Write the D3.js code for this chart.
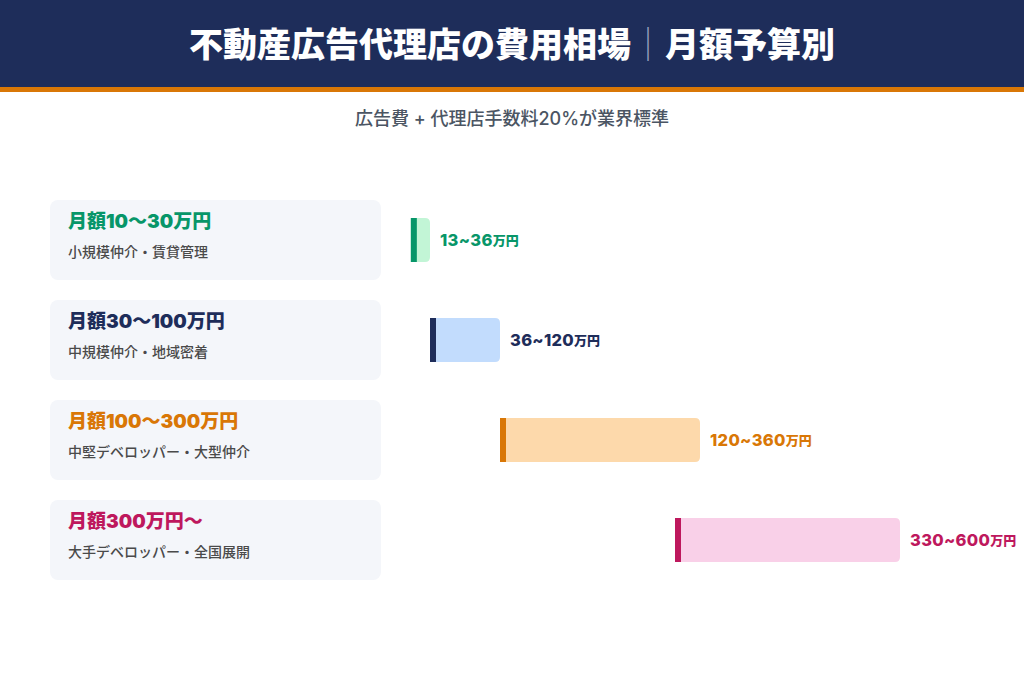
<!DOCTYPE html>
<html>
<head>
<meta charset="utf-8">
<script src="https://cdn.jsdelivr.net/npm/d3@7"></script>
<style>
  body { margin: 0; background: #fff; }
  svg { display: block; }
  text { font-family: "Inter", "Noto Sans CJK JP", sans-serif; }
</style>
</head>
<body>
<div id="chart"></div>
<script>
// budget tiers
let tiers = ["月額10〜30万円", "月額30〜100万円", "月額100〜300万円", "月額300万円〜"];
let tierNotes = ["小規模仲介・賃貸管理", "中規模仲介・地域密着", "中堅デベロッパー・大型仲介", "大手デベロッパー・全国展開"];
// total cost range incl. agency fee (万円)
let costLow = [13, 36, 120, 330];
let costHigh = [36, 120, 360, 600];
let rangeLabels = ["13~36", "36~120", "120~360", "330~600"];

let mainColors = ["#079669", "#1e2d5a", "#d97706", "#be185d"];
let lightColors = ["#c2f5d6", "#c2dcfd", "#fdd9ab", "#f9d0e8"];

let width = 1024, height = 683;

let svg = d3.select("#chart").append("svg")
    .attr("width", width)
    .attr("height", height);

// header band
svg.append("rect").attr("x", 0).attr("y", 0).attr("width", width).attr("height", 88)
    .attr("fill", "#1e2d5a");
svg.append("rect").attr("x", 0).attr("y", 87).attr("width", width).attr("height", 5)
    .attr("fill", "#d97706");

let title = svg.append("text")
    .attr("x", width / 2).attr("y", 57)
    .attr("text-anchor", "middle")
    .style("font-size", "34px").style("font-weight", "900")
    .attr("fill", "#fff");
title.append("tspan").text("不動産広告代理店の費用相場");
title.append("tspan").attr("fill", "#9aa4c0").style("font-weight", "300").text("｜");
title.append("tspan").text("月額予算別");

svg.append("text")
    .attr("x", width / 2).attr("y", 125)
    .attr("text-anchor", "middle")
    .style("font-size", "18px").style("font-weight", "500")
    .attr("fill", "#4b5563")
    .text("広告費 + 代理店手数料20%が業界標準");

// scales
let y = d3.scaleBand()
    .domain(d3.range(tiers.length))
    .range([190, 590])
    .paddingInner(0.2).paddingOuter(0.1);

let x = d3.scaleLinear()
    .domain([0, 600])
    .range([400, 900]);

let barH = 44;

let rows = svg.selectAll(".row")
    .data(tiers)
    .enter().append("g")
    .attr("class", "row")
    .attr("transform", (d, i) => "translate(0," + y(i) + ")");

// left cards
rows.append("rect")
    .attr("x", 50).attr("y", 0)
    .attr("width", 331).attr("height", y.bandwidth())
    .attr("rx", 8)
    .attr("fill", "#f4f6fa");

rows.append("text")
    .attr("x", 68).attr("y", 28)
    .style("font-size", "19px").style("font-weight", "900")
    .attr("fill", (d, i) => mainColors[i])
    .text(d => d);

rows.append("text")
    .attr("x", 68).attr("y", 57)
    .style("font-size", "14px").style("font-weight", "500")
    .attr("fill", "#4a4a4a")
    .text((d, i) => tierNotes[i]);

// range bars
let mid = y.bandwidth() / 2;

rows.append("path")
    .attr("fill", (d, i) => lightColors[i])
    .attr("d", (d, i) => {
        let x0 = x(costLow[i]), x1 = x(costHigh[i]), r = 5;
        let t = mid - barH / 2, b = mid + barH / 2;
        return "M" + x0 + "," + t + "H" + (x1 - r) + "Q" + x1 + "," + t + " " + x1 + "," + (t + r)
            + "V" + (b - r) + "Q" + x1 + "," + b + " " + (x1 - r) + "," + b + "H" + x0 + "Z";
    });

rows.append("rect")
    .attr("x", (d, i) => x(costLow[i]))
    .attr("y", mid - barH / 2)
    .attr("width", 6).attr("height", barH)
    .attr("fill", (d, i) => mainColors[i]);

let lbl = rows.append("text")
    .attr("x", (d, i) => x(costHigh[i]) + 10)
    .attr("y", mid)
    .attr("dominant-baseline", "central")
    .style("font-weight", "800")
    .attr("fill", (d, i) => mainColors[i]);
lbl.append("tspan").style("font-size", "16.5px").style("letter-spacing", "0.3px")
    .text((d, i) => rangeLabels[i]);
lbl.append("tspan").style("font-size", "13px").text("万円");
</script>
</body>
</html>
